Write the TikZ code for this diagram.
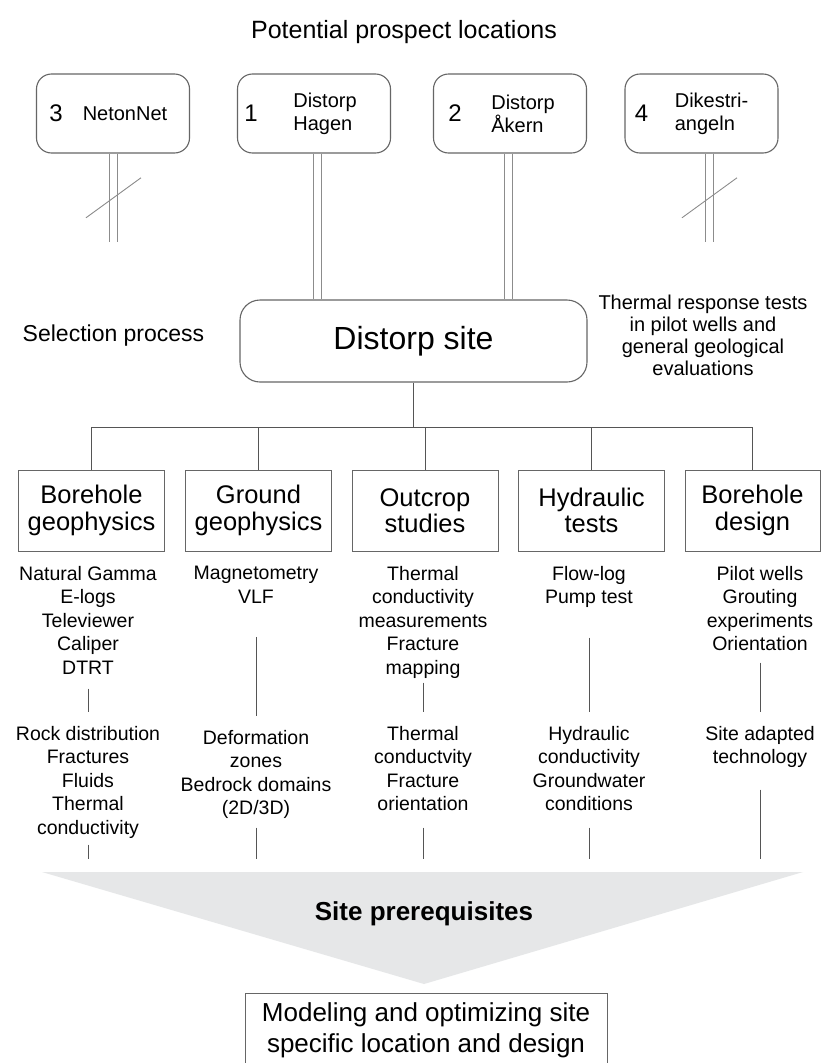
\documentclass[tikz,border=0pt]{standalone}
\usepackage{fontspec}
\setmainfont{Liberation Sans}
\usetikzlibrary{calc}
\definecolor{boxgray}{HTML}{666666}
\definecolor{linegray}{HTML}{555555}
\definecolor{stemgray}{HTML}{8C8C8C}
\definecolor{prereqfill}{HTML}{E6E7E8}
\tikzset{
  prospect/.style={draw=boxgray, line width=1.1pt, rounded corners=15pt,
    minimum width=153pt, minimum height=79pt, inner sep=0pt},
  numtext/.style={font=\fontsize{24}{28}\selectfont, inner sep=0pt},
  pname/.style={font=\fontsize{20}{23}\selectfont, align=left, inner sep=0pt},
  sitebox/.style={draw=boxgray, line width=1.1pt, rounded corners=20pt,
    minimum width=347pt, minimum height=82pt, font=\fontsize{32}{36}\selectfont},
  sidetext/.style={font=\fontsize{20}{22}\selectfont, align=center, inner sep=0pt},
  catbox/.style={draw=boxgray, line width=1pt, minimum width=146pt, minimum height=81pt,
    align=center, inner sep=0pt, font=\fontsize{25.5}{26.5}\selectfont},
  listtext/.style={align=center, inner sep=0pt, anchor=north,
    font=\fontsize{19.5}{23.5}\selectfont},
  conn/.style={draw=linegray, line width=1pt},
  doublestem/.style={draw=stemgray, line width=1pt, double=white, double distance=7pt},
  cutmark/.style={draw=stemgray, line width=0.9pt},
  resultbox/.style={draw=boxgray, line width=1pt, minimum width=362pt, minimum height=74pt,
    align=center, font=\fontsize{26}{31}\selectfont}
}
\begin{document}
\begin{tikzpicture}[x=1pt,y=-1pt]
\clip (0,0) rectangle (821,1063);
\fill[white] (0,0) rectangle (821,1063);

% potential locations
\node[font=\fontsize{25}{30}\selectfont, anchor=base, inner sep=0pt] (heading) at (404,38) {Potential prospect locations};

\node[prospect] (p3) at (113,113.5) {};
\node[prospect] (p1) at (314,113.5) {};
\node[prospect] (p2) at (510,113.5) {};
\node[prospect] (p4) at (701.5,113.5) {};
\node[numtext] (n3) at ([xshift=20pt]p3.west) {3};
\node[numtext] (n1) at ([xshift=14pt]p1.west) {1};
\node[numtext] (n2) at ([xshift=22pt]p2.west) {2};
\node[numtext] (n4) at ([xshift=17pt]p4.west) {4};
\node[pname] (t3) at ([xshift=12pt]p3.center) {NetonNet};
\node[pname] (t1) at ([xshift=11pt]p1.center) {Distorp\\Hagen};
\node[pname] (t2) at ([xshift=13pt]p2.center) {Distorp\\Åkern};
\node[pname] (t4) at ([xshift=10pt]p4.center) {Dikestri-\\angeln};

% selection
\node[sitebox] (site) at (413.5,341) {Distorp site};
\node[font=\fontsize{23}{27}\selectfont, anchor=base, inner sep=0pt] (select) at (113.5,341) {Selection process};
\node[sidetext] (trt) at (703,335) {Thermal response tests\\in pilot wells and\\general geological\\evaluations};

\coordinate (e3) at (113.5,242);
\coordinate (e4) at (709.5,242);
\draw[doublestem] (e3 |- p3.south) -- (e3);
\draw[doublestem] ([xshift=3.5pt]p1.south) -- ([xshift=3.5pt]p1.south |- site.north);
\draw[doublestem] ([xshift=-1.5pt]p2.south) -- ([xshift=-1.5pt]p2.south |- site.north);
\draw[doublestem] (e4 |- p4.south) -- (e4);
\draw[cutmark] ($(e3 |- p3.south)!0.5!(e3)+(-27.5,20)$) -- ($(e3 |- p3.south)!0.5!(e3)+(27.5,-20)$);
\draw[cutmark] ($(e4 |- p4.south)!0.5!(e4)+(-27.5,20)$) -- ($(e4 |- p4.south)!0.5!(e4)+(27.5,-20)$);

% investigations
\node[catbox] (c1) at (91.5,510.5) {Borehole\\geophysics};
\node[catbox] (c2) at (258.5,510.5) {Ground\\geophysics};
\node[catbox] (c3) at (425,510.5) {Outcrop\\studies};
\node[catbox] (c4) at (591.5,510.5) {Hydraulic\\tests};
\node[catbox, minimum width=135pt] (c5) at (752.5,510.5) {Borehole\\design};

\coordinate (barlevel) at (0,427);
\coordinate (hub) at (site.south |- barlevel);
\draw[conn] (site) -- (hub);
\foreach \c in {c1,c2,c3,c4,c5}
  \draw[conn] (\c.north) |- (hub);

\node[listtext] (l1) at (88,566) {Natural Gamma\\E-logs\\Televiewer\\Caliper\\DTRT};
\node[listtext] (l2) at (256,566) {Magnetometry\\VLF};
\node[listtext] (l3) at (423,566) {Thermal\\conductivity\\measurements\\Fracture\\mapping};
\node[listtext] (l4) at (589,566) {Flow-log\\Pump test};
\node[listtext] (l5) at (760,566) {Pilot wells\\Grouting\\experiments\\Orientation};

\node[listtext] (r1) at (88,726) {Rock distribution\\Fractures\\Fluids\\Thermal\\conductivity};
\node[listtext] (r2) at (256,730) {Deformation\\zones\\Bedrock domains\\(2D/3D)};
\node[listtext] (r3) at (423,726) {Thermal\\conductvity\\Fracture\\orientation};
\node[listtext] (r4) at (589,726) {Hydraulic\\conductivity\\Groundwater\\conditions};
\node[listtext] (r5) at (760,726) {Site adapted\\technology};

\foreach \i/\s in {1/14,2/33.5,3/4,4/29.5,5/11.5}
  \draw[conn, shorten <=\s pt, shorten >=14pt] (l\i.south) -- (r\i.north);

% prerequisites
\coordinate (tl) at (42,872);
\coordinate (tr) at (803,872);
\coordinate (tip) at (424,984);
\fill[prereqfill] (tl) -- (tr) -- (tip) -- cycle;
\foreach \i/\s in {1/6,2/8.5,3/16.5,4/16.5,5/21.5}
  \draw[conn, shorten <=\s pt, shorten >=13pt] (r\i.south) -- (r\i.south |- tl);
\node[font=\bfseries\fontsize{26}{30}\selectfont, inner sep=0pt] (prereq) at (424,914) {Site prerequisites};

\node[resultbox] (model) at (426,1030) {Modeling and optimizing site\\specific location and design};
\end{tikzpicture}
\end{document}
